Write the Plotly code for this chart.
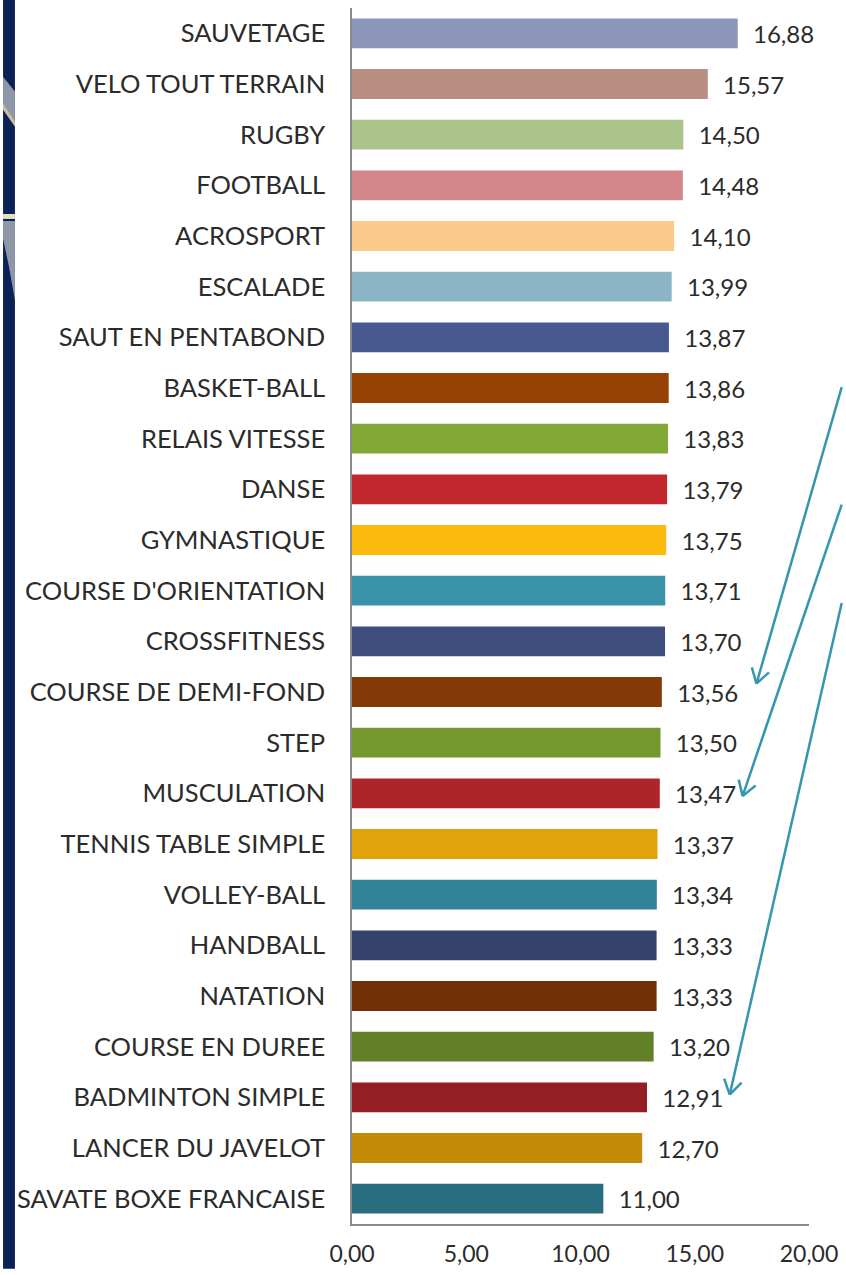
import plotly.graph_objects as go
import numpy as np

categories = ["SAUVETAGE", "VELO TOUT TERRAIN", "RUGBY", "FOOTBALL", "ACROSPORT", "ESCALADE",
              "SAUT EN PENTABOND", "BASKET-BALL", "RELAIS VITESSE", "DANSE", "GYMNASTIQUE",
              "COURSE D'ORIENTATION", "CROSSFITNESS", "COURSE DE DEMI-FOND", "STEP", "MUSCULATION",
              "TENNIS TABLE SIMPLE", "VOLLEY-BALL", "HANDBALL", "NATATION", "COURSE EN DUREE",
              "BADMINTON SIMPLE", "LANCER DU JAVELOT", "SAVATE BOXE FRANCAISE"]
values = [16.88, 15.57, 14.50, 14.48, 14.10, 13.99, 13.87, 13.86, 13.83, 13.79, 13.75,
          13.71, 13.70, 13.56, 13.50, 13.47, 13.37, 13.34, 13.33, 13.33, 13.20, 12.91, 12.70, 11.00]
colors = ["#8B96B8", "#B88E82", "#AAC48C", "#D4878A", "#FBC98A", "#8BB5C4",
          "#47598F", "#974205", "#82A935", "#C1282E", "#FAB90B",
          "#3A91AA", "#3D4E7F", "#833A06", "#74982E", "#AD2429",
          "#E2A30A", "#2F8297", "#34426C", "#6F3105", "#628028",
          "#931E23", "#C48B08", "#296E80"]
x_ticks = [0, 5, 10, 15, 20]

W, H = 846, 1275
L, R, T, B = 352, 33, 8, 45
PW, PH = W - L - R, H - T - B


def px(x):
    return (x - L) / PW


def py(y):
    return (H - B - y) / PH


fig = go.Figure(go.Bar(
    x=values, y=categories, orientation="h",
    marker=dict(color=colors, line=dict(width=0)),
    texttemplate="\u00a0\u00a0%{x:.2f}", textposition="outside",
    textfont=dict(size=24, color="#2b2b2b"), cliponaxis=False,
))

shapes = []
# left decorative strip
shapes.append(dict(type="rect", xref="paper", yref="paper", x0=px(0), x1=px(12), y0=py(H), y1=py(0),
                   fillcolor="#0B2257", line=dict(width=0), layer="above"))


def poly(pts, color):
    d = "M " + " L ".join(f"{px(a):.5f},{py(b):.5f}" for a, b in pts) + " Z"
    return dict(type="path", xref="paper", yref="paper", path=d, fillcolor=color,
                line=dict(width=0), layer="above")


shapes.append(poly([(0, 77), (12, 92), (12, 127), (0, 110)], "#8E96A8"))
shapes.append(poly([(0, 104), (12, 122), (12, 127), (0, 110)], "#C9BFA0"))
shapes.append(poly([(0, 215), (12, 215), (12, 220), (0, 220)], "#E8DEC0"))
shapes.append(poly([(0, 222), (12, 222), (12, 302), (6, 268), (0, 240)], "#8E96A8"))

# arrows
arrows = [((760, 687), (846, 389)), ((746, 800), (846, 507)), ((733, 1100), (846, 606))]
teal = "#3497AE"
for (tx, ty), (sx, sy) in arrows:
    shapes.append(dict(type="line", xref="paper", yref="paper", x0=px(sx), y0=py(sy), x1=px(tx), y1=py(ty),
                       line=dict(color=teal, width=2.5), layer="above"))
    v = np.array([sx - tx, sy - ty], dtype=float)
    v /= np.linalg.norm(v)
    for ang in (np.radians(32), -np.radians(32)):
        rot = np.array([[np.cos(ang), -np.sin(ang)], [np.sin(ang), np.cos(ang)]])
        a = rot @ v * 17
        shapes.append(dict(type="line", xref="paper", yref="paper", x0=px(tx), y0=py(ty),
                           x1=px(tx + a[0]), y1=py(ty + a[1]),
                           line=dict(color=teal, width=2.5), layer="above"))

fig.update_layout(
    width=W, height=H,
    margin=dict(l=L, r=R, t=T, b=B),
    paper_bgcolor="white", plot_bgcolor="white",
    separators=", ",
    bargap=0.41,
    showlegend=False,
    font=dict(family="Lato, Open Sans, sans-serif", color="#2b2b2b", size=24),
    shapes=shapes,
    xaxis=dict(range=[0, 20], tickvals=x_ticks, tickformat=".2f", showgrid=False, zeroline=False,
               showline=True, linecolor="#8a8a8a", linewidth=1.5, ticks="",
               tickfont=dict(size=23, color="#2b2b2b"), ticklabelstandoff=9),
    yaxis=dict(categoryorder="array", categoryarray=categories, autorange="reversed",
               showgrid=False, zeroline=False, showline=True, linecolor="#8a8a8a", linewidth=1.5,
               ticks="", tickfont=dict(size=25.5, color="#2b2b2b"), ticklabelstandoff=20),
)

fig.write_html("out.html", config={"displayModeBar": False},
               post_script="document.body.style.margin='0';document.body.style.overflow='hidden';")
